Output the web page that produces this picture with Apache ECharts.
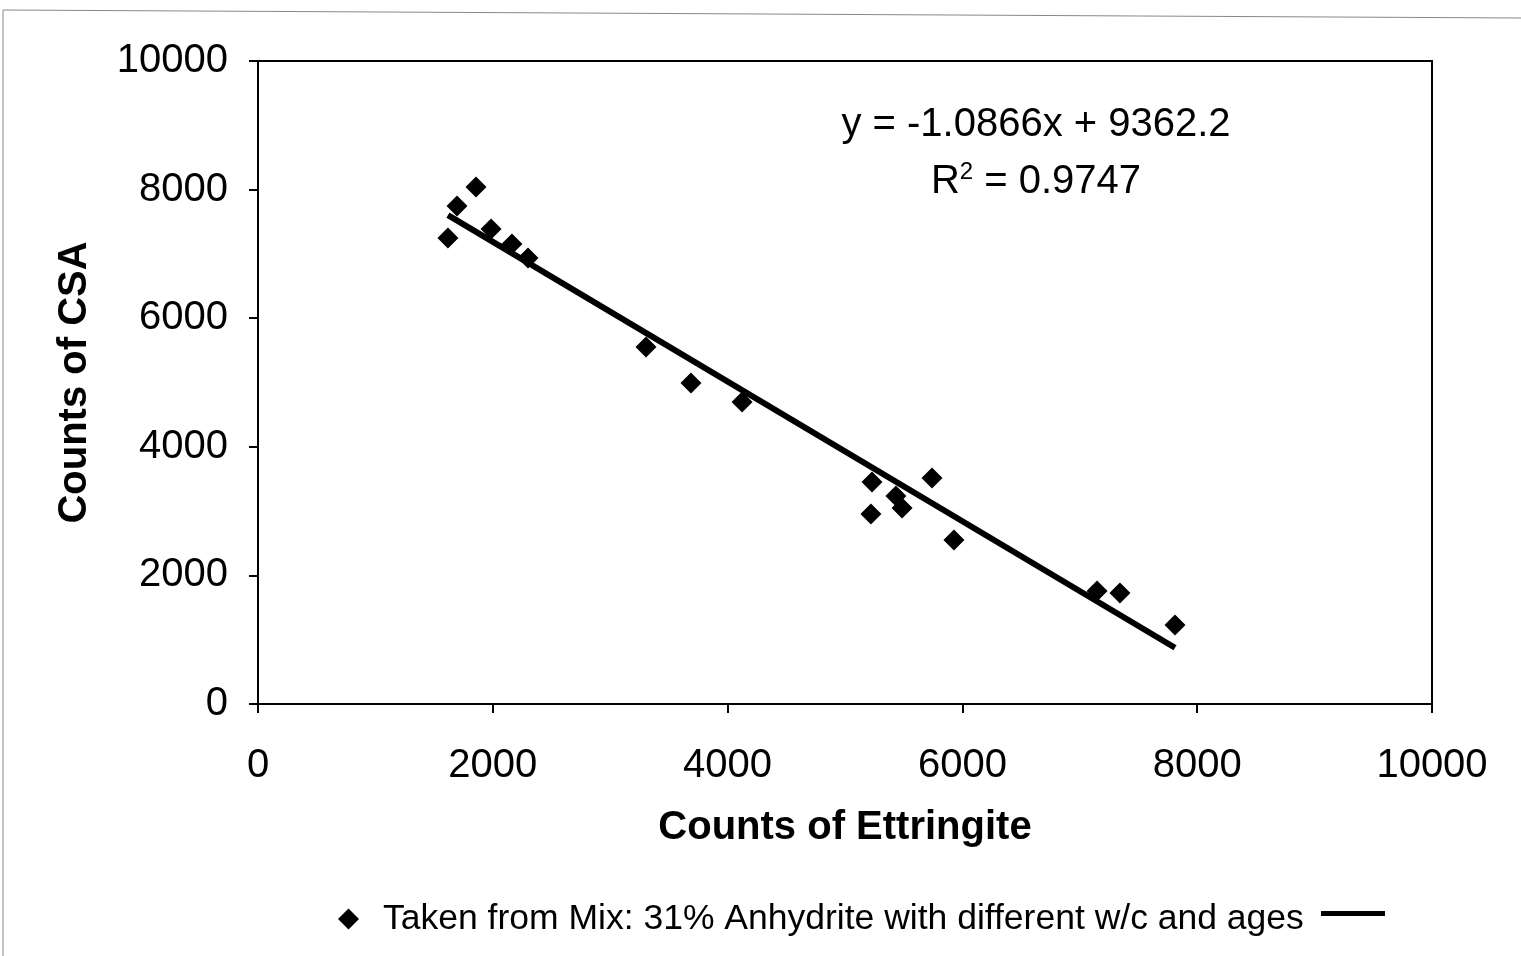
<!DOCTYPE html>
<html>
<head>
<meta charset="utf-8">
<script src="https://cdn.jsdelivr.net/npm/echarts@6/dist/echarts.min.js"></script>
<style>
html,body{margin:0;padding:0;background:#fff;}
#chart{width:1521px;height:956px;}
</style>
</head>
<body>
<div id="chart"></div>
<script>
// Data
const ettringite = [1618, 1695, 1857, 1985, 2163, 2300, 3305, 3688, 4123, 5221, 5230, 5434, 5486, 5741, 5928, 7147, 7342, 7811];
const csa        = [7247, 7745, 8040, 7387, 7154, 6936, 5552, 4992, 4697, 2955, 3453, 3235, 3048, 3515, 2550, 1757, 1726, 1229];
const trendSlope = -1.0866;
const trendIntercept = 9362.2;
const trendX = [1618, 7811];
const seriesName = 'Taken from Mix: 31% Anhydrite with different w/c and ages';
const eqText = 'y = -1.0866x + 9362.2';
const r2Text = 'R{sup|2} = 0.9747';

const points = ettringite.map((x, i) => [x, csa[i]]);
const trend = trendX.map(x => [x, trendSlope * x + trendIntercept]);

const chart = echarts.init(document.getElementById('chart'));
const font = '"Liberation Sans", Arial, Helvetica, sans-serif';
const plainNum = v => String(v);
chart.setOption({
  backgroundColor: '#fff',
  animation: false,
  textStyle: {fontFamily: font, color: '#000'},
  grid: {left: 258, right: 89, top: 61, bottom: 252, show: true, borderColor: '#000', borderWidth: 2, backgroundColor: 'transparent'},
  xAxis: {
    type: 'value', min: 0, max: 10000, interval: 2000,
    name: 'Counts of Ettringite', nameLocation: 'middle', nameGap: 104,
    nameTextStyle: {fontSize: 40, fontWeight: 'bold', color: '#000', fontFamily: font},
    axisLine: {show: true, lineStyle: {color: '#000', width: 2}},
    axisTick: {show: true, inside: false, length: 9, lineStyle: {color: '#000', width: 2}},
    axisLabel: {fontSize: 40, color: '#000', margin: 42, fontFamily: font, formatter: plainNum},
    splitLine: {show: false}
  },
  yAxis: {
    type: 'value', min: 0, max: 10000, interval: 2000,
    name: 'Counts of CSA', nameLocation: 'middle', nameGap: 163, nameRotate: 90,
    nameTextStyle: {fontSize: 40, fontWeight: 'bold', color: '#000', fontFamily: font},
    axisLine: {show: true, lineStyle: {color: '#000', width: 2}},
    axisTick: {show: true, inside: false, length: 9, lineStyle: {color: '#000', width: 2}},
    axisLabel: {fontSize: 40, color: '#000', margin: 30, fontFamily: font, formatter: plainNum},
    splitLine: {show: false}
  },
  legend: [
    {
      left: 333, top: 896, itemWidth: 21, itemHeight: 21,
      textStyle: {fontSize: 35.5, color: '#000', fontFamily: font, padding: [0, 0, 0, 19]},
      data: [{name: seriesName, icon: 'diamond', itemStyle: {color: '#000', opacity: 1}}]
    },
    {
      left: 1316, top: 891, itemWidth: 64, itemHeight: 5,
      textStyle: {fontSize: 35, color: '#000', fontFamily: font},
      data: [{name: ' ', icon: 'rect', itemStyle: {color: '#000', borderWidth: 0}, lineStyle: {width: 5, color: '#000'}}]
    }
  ],
  series: [
    {
      name: seriesName, type: 'scatter', symbol: 'diamond', symbolSize: 21,
      itemStyle: {color: '#000', opacity: 1}, data: points, z: 3
    },
    {
      name: ' ', type: 'line', showSymbol: false, symbol: 'none',
      lineStyle: {color: '#000', width: 6}, itemStyle: {color: '#000'}, data: trend, z: 2
    }
  ],
  graphic: [
    {type: 'text', x: 1036, y: 125, style: {text: eqText, textAlign: 'center', textVerticalAlign: 'middle', fontSize: 40, fill: '#000', fontFamily: font}},
    {type: 'text', x: 1036, y: 182, style: {
      text: r2Text, fontSize: 40, fill: '#000', fontFamily: font, textAlign: 'center', textVerticalAlign: 'middle',
      rich: {sup: {fontSize: 24, verticalAlign: 'top', padding: [0, 0, 20, 0], fontFamily: font, fill: '#000'}}
    }},
    {type: 'polyline', shape: {points: [[3, 956], [3, 10], [1521, 18]]}, style: {stroke: '#888', lineWidth: 1, fill: null}}
  ]
});
</script>
</body>
</html>
